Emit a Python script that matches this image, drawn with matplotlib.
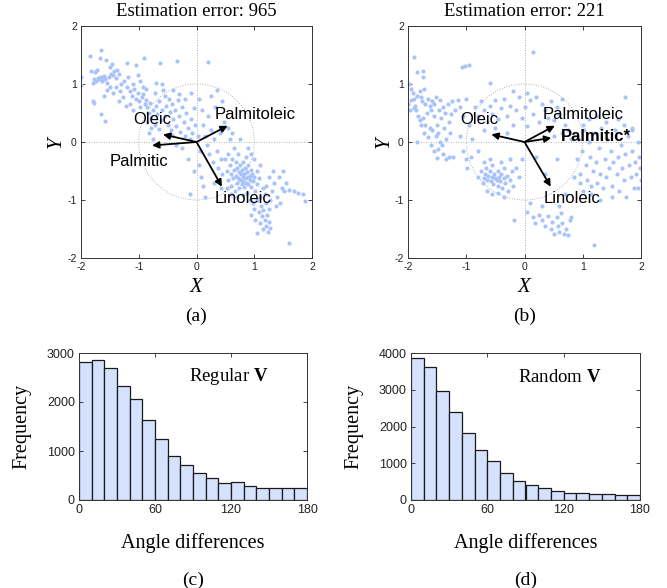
import matplotlib
matplotlib.use("Agg")
import matplotlib.pyplot as plt
from matplotlib.patches import Circle

# ---- data ----
# panel (a): regular V projection
pts_a = [
    (-2.0, 1.12), (-2.0, 0.98), (-1.84, 1.48), (-1.65, 1.58), (-1.67, 1.45), (-1.57, 1.42),
    (-1.82, 1.22), (-1.75, 1.20), (-1.72, 1.25), (-1.70, 1.10), (-1.68, 1.08), (-1.66, 1.12),
    (-1.63, 1.05), (-1.62, 1.10), (-1.60, 1.14), (-1.58, 1.08), (-1.55, 1.02), (-1.78, 1.08),
    (-1.80, 1.02), (-1.74, 1.05), (-1.52, 1.12), (-1.48, 1.18), (-1.45, 1.15), (-1.42, 1.22),
    (-1.40, 1.10), (-1.38, 1.25), (-1.35, 1.18), (-1.50, 1.30), (-1.46, 1.35), (-1.80, 0.70),
    (-1.77, 0.68), (-1.66, 0.49), (-1.58, 0.37), (-1.55, 0.90), (-1.50, 0.95), (-1.45, 0.85),
    (-1.60, 0.80),
    (-1.21, 1.37), (-1.05, 1.33), (-0.91, 1.45), (-1.30, 1.00), (-1.25, 1.05), (-1.20, 0.95),
    (-1.18, 1.12), (-1.15, 0.88), (-1.12, 0.80), (-1.10, 1.00), (-1.08, 0.92), (-1.05, 0.75),
    (-1.02, 0.85), (-1.00, 0.70), (-0.98, 1.05), (-0.95, 0.78), (-0.93, 0.95), (-0.90, 0.65),
    (-1.28, 0.78), (-1.35, 0.70), (-1.22, 0.62), (-1.15, 0.65), (-1.10, 0.55), (-0.98, 0.60),
    (-1.40, 0.95), (-1.32, 0.88), (-0.92, 0.82), (-1.02, 1.15),
    (-0.63, 1.37), (-0.34, 1.40), (-0.88, 0.72), (-0.85, 0.60), (-0.82, 0.50), (-0.80, 0.68),
    (-0.78, 0.42), (-0.75, 0.55), (-0.72, 0.85), (-0.70, 0.62), (-0.68, 0.48), (-0.65, 0.70),
    (-0.62, 0.38), (-0.60, 0.55), (-0.58, 0.90), (-0.55, 0.45), (-0.52, 0.62), (-0.50, 0.30),
    (-0.48, 0.75), (-0.46, 0.52), (-0.85, 0.35), (-0.78, 0.25), (-0.72, 0.30), (-0.65, 0.22),
    (-0.60, 1.00), (-0.55, 0.80), (-0.88, 0.92), (-0.70, 1.02), (-0.82, 0.15), (-0.75, 0.05),
    (-0.42, 0.65), (-0.40, 0.40), (-0.38, 0.55), (-0.35, 0.28), (-0.32, 0.72), (-0.30, 0.45),
    (-0.28, 0.18), (-0.25, 0.60), (-0.22, 0.35), (-0.20, 0.10), (-0.18, 0.50), (-0.15, 0.25),
    (-0.12, 0.05), (-0.10, 0.40), (-0.08, 0.15), (-0.05, 0.58), (-0.03, 0.30), (-0.40, 0.90),
    (-0.30, 0.82), (-0.20, 0.75), (-0.42, 0.12), (-0.35, -0.05), (-0.25, -0.10), (-0.15, -0.30),
    (-0.12, -0.89), (-0.05, -0.50), (-0.45, 0.20), (-0.10, 0.85),
    (0.20, 1.38), (0.05, 0.75), (0.10, 0.55), (0.12, 0.30), (0.15, 0.10), (0.18, -0.05),
    (0.20, 0.45), (0.22, -0.20), (0.25, 0.20), (0.28, -0.35), (0.30, 0.05), (0.32, 0.60),
    (0.35, -0.15), (0.38, -0.45), (0.40, 0.15), (0.42, -0.30), (0.45, -0.55), (0.48, 0.35),
    (0.05, -0.40), (0.08, -0.60), (0.12, -0.75), (0.02, 0.10), (0.06, -0.15), (0.25, 0.80),
    (0.35, 0.90), (0.30, -0.70), (0.42, -0.80), (0.15, -0.95), (0.45, 0.70),
    (0.50, -0.30), (0.52, -0.50), (0.55, -0.65), (0.55, -0.20), (0.58, -0.40), (0.60, -0.55),
    (0.60, -0.75), (0.62, -0.30), (0.63, -0.62), (0.65, -0.48), (0.66, -0.85), (0.68, -0.35),
    (0.68, -0.58), (0.70, -0.70), (0.70, -0.45), (0.72, -0.62), (0.73, -0.52), (0.74, -0.80),
    (0.75, -0.40), (0.76, -0.65), (0.77, -0.55), (0.78, -0.72), (0.79, -0.48), (0.80, -0.60),
    (0.80, -0.35), (0.81, -0.68), (0.82, -0.55), (0.83, -0.78), (0.84, -0.45), (0.85, -0.62),
    (0.86, -0.70), (0.87, -0.52), (0.88, -0.88), (0.89, -0.60), (0.90, -0.40), (0.90, -0.72),
    (0.92, -0.58), (0.93, -0.65), (0.94, -0.48), (0.95, -0.78), (0.96, -0.55), (0.98, -0.68),
    (1.00, -0.60), (1.00, -0.30), (1.02, -0.85), (1.04, -0.50), (1.05, -0.72), (1.08, -0.62),
    (1.10, -0.40), (0.65, -0.10), (0.58, 0.05), (0.72, -0.20), (0.85, -0.25), (0.95, -0.20),
    (0.70, -0.95), (0.80, -0.92), (0.62, 0.15), (0.75, 0.05), (0.55, 0.25), (0.90, -0.10),
    (0.52, -0.80), (0.60, -0.90),
    (0.95, -1.25), (0.98, -1.05), (1.00, -1.15), (1.02, -1.35), (1.05, -1.57), (1.05, -1.00),
    (1.08, -1.20), (1.10, -1.40), (1.12, -1.10), (1.13, -1.28), (1.15, -1.50), (1.16, -1.18),
    (1.18, -1.35), (1.20, -1.05), (1.21, -1.45), (1.22, -1.25), (1.23, -1.55), (1.25, -1.15),
    (1.26, -1.38), (1.28, -1.48), (1.10, -0.95), (1.18, -0.90), (0.92, -1.00), (1.27, -1.00),
    (1.20, -0.75), (1.25, -0.60), (1.30, -0.85), (1.32, -0.50), (1.35, -0.70), (1.40, -0.95),
    (1.42, -0.60), (1.48, -0.80), (1.50, -0.50), (1.52, -0.85), (1.55, -0.70), (1.60, -0.82),
    (1.68, -0.85), (1.75, -0.88), (1.88, -1.02), (1.85, -0.90), (1.60, -1.75), (1.45, -1.05),
    (1.38, -1.10), (1.15, -0.80),
]

# panel (b): random V projection
pts_b = [
    (-1.90, 1.47), (-1.84, 1.21), (-1.74, 1.22), (-1.75, 1.12), (-1.98, 1.00), (-1.95, 0.92),
    (-1.92, 0.85), (-1.90, 0.75), (-1.88, 0.62), (-1.86, 0.55), (-2.00, 0.65), (-1.97, 0.55),
    (-1.85, 0.80), (-1.80, 0.88), (-1.78, 0.78), (-1.76, 0.70), (-1.82, 0.45), (-1.80, 0.38),
    (-1.78, 0.30), (-1.75, 0.42), (-1.72, 0.92), (-1.68, 0.50), (-1.65, 0.75), (-1.62, 0.62),
    (-1.60, 0.55), (-1.58, 0.70), (-1.56, 0.45), (-1.55, 0.65), (-1.52, 0.78), (-1.50, 0.30),
    (-1.48, 0.15), (-1.47, 0.55), (-1.45, 0.72), (-1.43, 0.42), (-1.40, 0.60), (-1.38, 0.25),
    (-1.36, 0.50), (-1.35, 0.05), (-1.32, 0.65), (-1.30, 0.35), (-1.28, 0.15), (-1.26, 0.48),
    (-1.25, 0.70), (-1.22, -0.25), (-1.20, 0.55), (-1.72, 0.15), (-1.65, 0.08), (-1.60, -0.05),
    (-1.55, -0.15), (-1.50, -0.28), (-1.48, -0.12), (-1.42, -0.05), (-1.85, 0.00), (-1.70, 0.30),
    (-1.62, 0.25), (-1.58, 0.20), (-1.52, 0.10), (-1.45, 0.00), (-1.40, -0.20), (-1.35, -0.30),
    (-1.30, -0.25), (-1.95, 0.72), (-1.90, 0.58), (-1.70, 0.65),
    (-1.07, 1.29), (-1.02, 1.31), (-0.95, 1.32), (-1.15, 0.72), (-1.10, 0.60), (-1.05, 0.45),
    (-1.00, 0.75), (-0.95, 0.30), (-1.10, 0.10), (-1.05, -0.15), (-1.00, -0.30), (-0.98, -0.45),
    (-0.92, -0.25), (-0.90, 0.05), (-0.60, 1.02),
    (-0.85, 0.60), (-0.80, 0.45), (-0.75, 0.70), (-0.70, 0.55), (-0.65, 0.35), (-0.60, 0.62),
    (-0.55, 0.48), (-0.50, 0.72), (-0.45, 0.40), (-0.40, 0.58), (-0.35, 0.75), (-0.30, 0.45),
    (-0.25, 0.62), (-0.20, 0.30), (-0.15, 0.55), (-0.10, 0.78), (-0.05, 0.42), (0.00, 0.60),
    (0.05, 0.28), (0.10, 0.72), (0.15, 0.48), (0.20, 0.78), (0.25, 0.35), (0.30, 0.65),
    (0.35, 0.55), (0.40, 0.42), (0.45, 0.70), (0.50, 0.38), (0.55, 0.60), (0.60, 0.48),
    (0.65, 0.75), (0.70, 0.30), (-0.70, 0.20), (-0.30, 0.15), (0.15, 1.55), (-0.50, 0.25),
    (0.05, 0.85), (-0.20, 0.88),
    (-0.80, -0.60), (-0.75, -0.50), (-0.72, -0.70), (-0.70, -0.62), (-0.68, -0.55), (-0.66, -0.45),
    (-0.64, -0.65), (-0.62, -0.58), (-0.60, -0.50), (-0.58, -0.68), (-0.56, -0.60), (-0.55, -0.40),
    (-0.54, -0.72), (-0.52, -0.55), (-0.50, -0.62), (-0.48, -0.66), (-0.46, -0.50), (-0.45, -0.75),
    (-0.43, -0.60), (-0.42, -0.68), (-0.40, -0.55), (-0.38, -0.80), (-0.36, -0.62), (-0.35, -0.45),
    (-0.33, -0.70), (-0.30, -0.58), (-0.28, -0.85), (-0.25, -0.65), (-0.22, -0.50), (-0.20, -0.75),
    (-0.65, -0.85), (-0.55, -0.90), (-0.45, -0.88), (-0.35, -0.95), (-0.70, -0.35), (-0.15, -0.45),
    (-0.10, -0.60), (-0.05, -0.30), (-0.60, -0.30), (-0.40, -0.35), (-0.25, -0.30),
    (0.90, -0.30), (0.92, 0.05), (0.95, -0.55), (0.98, -0.15), (1.00, -0.85), (1.02, 0.20),
    (1.05, -0.40), (1.08, -0.65), (1.10, 0.00), (1.12, -0.25), (1.15, -0.90), (1.18, -0.50),
    (1.20, 0.15), (1.22, -0.35), (1.25, -0.70), (1.28, -0.10), (1.30, -0.55), (1.32, 0.25),
    (1.35, -0.80), (1.38, -0.30), (1.40, -0.60), (1.42, 0.05), (1.45, -0.45), (1.48, -0.15),
    (1.50, -0.75), (1.52, -0.35), (1.55, 0.20), (1.58, -0.55), (1.60, -0.25), (1.62, -0.85),
    (1.65, -0.05), (1.68, -0.45), (1.70, -0.65), (1.73, 0.77), (1.72, -0.20), (1.75, -0.95),
    (1.78, 0.10), (1.80, -0.40), (1.82, -0.60), (1.84, 0.25), (1.85, -0.15), (1.88, -0.80),
    (1.90, -0.35), (1.92, -0.55), (1.95, 0.00), (1.96, -0.25), (1.98, -0.45), (2.00, -0.65),
    (1.60, 0.40), (1.40, 0.35), (1.25, 0.45), (1.10, 0.40), (1.85, 0.20), (1.50, -0.95),
    (1.30, -1.00), (1.15, -0.75), (1.95, -0.80), (1.70, 0.30), (1.00, 0.30), (0.95, -0.70),
    (0.15, -1.30), (0.18, -1.40), (0.25, -1.25), (0.30, -1.35), (0.35, -1.45), (0.40, -1.28),
    (0.45, -1.50), (0.48, -1.38), (0.50, -1.58), (0.55, -1.30), (0.58, -1.45), (0.60, -1.55),
    (0.62, -1.22), (0.65, -1.40), (0.68, -1.58), (0.72, -1.50), (0.75, -1.60), (0.78, -1.35),
    (0.80, -1.30), (0.05, -1.20), (-0.18, -1.35), (1.20, -1.78), (0.10, -1.05), (0.30, -1.10),
    (0.60, -1.10),
    (0.20, -0.25), (0.35, -0.55), (0.55, -0.30), (0.70, -0.90), (0.80, 0.05), (0.85, -0.60),
    (-0.80, -0.15), (0.50, 0.10), (0.65, 0.15), (0.75, 0.20),
]

# arrow tips: (name, x, y, label x, label y, bold)
arrows_a = [
    ("Oleic", -0.58, 0.13, -0.77, 0.38, False),
    ("Palmitic", -0.77, -0.06, -0.99, -0.34, False),
    ("Palmitoleic", 0.54, 0.28, 1.01, 0.48, False),
    ("Linoleic", 0.44, -0.77, 0.81, -0.98, False),
]
arrows_b = [
    ("Oleic", -0.57, 0.13, -0.77, 0.38, False),
    ("Palmitoleic", 0.52, 0.28, 1.01, 0.48, False),
    ("Palmitic*", 0.46, 0.07, 1.23, 0.09, True),
    ("Linoleic", 0.45, -0.77, 0.81, -0.98, False),
]

# histograms, 10-degree bins from 0 to 180
bin_edges = list(range(0, 190, 10))
freq_regular = [2810, 2850, 2690, 2330, 2070, 1630, 1240, 890, 715, 560,
                440, 345, 360, 285, 240, 250, 240, 250]
freq_random = [3870, 3620, 2960, 2400, 1810, 1350, 1050, 740, 515, 415,
               315, 250, 200, 200, 172, 172, 145, 127]

SERIF = "Liberation Serif"
SANS = "Liberation Sans"
DOT = "#a8c3fa"
BAR = "#d5e2fd"

plt.rcParams["axes.unicode_minus"] = False
plt.rcParams["mathtext.fontset"] = "custom"
plt.rcParams["mathtext.rm"] = SERIF
plt.rcParams["mathtext.bf"] = SERIF + ":bold"

W, H = 667, 588
fig = plt.figure(figsize=(W / 100, H / 100), dpi=100)


def box(l, t, r, b):
    return [l / W, 1 - b / H, (r - l) / W, (b - t) / H]


def style_axes(ax, size):
    ax.tick_params(direction="in", top=True, right=True, length=3, width=0.6,
                   labelsize=size, colors="#222222", pad=3)
    for lab in ax.get_xticklabels() + ax.get_yticklabels():
        lab.set_fontfamily(SANS)
    for s in ax.spines.values():
        s.set_linewidth(0.7)
        s.set_color("#333333")


def scatter_panel(rect, pts, arrows, title, cap, ylab_x):
    ax = fig.add_axes(box(*rect))
    ax.axhline(0, color="#999999", lw=0.6, ls=(0, (1, 2)), zorder=1)
    ax.axvline(0, color="#999999", lw=0.6, ls=(0, (1, 2)), zorder=1)
    ax.add_patch(Circle((0, 0), 1, fill=False, ec="#999999", lw=0.6, ls=(0, (1, 2)), zorder=1))
    ax.scatter([p[0] for p in pts], [p[1] for p in pts], s=9, c=DOT, lw=0, zorder=2)
    for name, x, y, lx, ly, bold in arrows:
        ax.annotate("", xy=(x, y), xytext=(0, 0),
                    arrowprops=dict(arrowstyle="-|>", color="black", lw=1.3,
                                    mutation_scale=10, shrinkA=0, shrinkB=0), zorder=3)
        ax.text(lx, ly, name, ha="center", va="center", fontsize=12, family=SANS,
                fontweight="bold" if bold else "normal", zorder=4)
    ax.set_xlim(-2, 2)
    ax.set_ylim(-2, 2)
    ax.set_xticks([-2, -1, 0, 1, 2])
    ax.set_yticks([-2, -1, 0, 1, 2])
    style_axes(ax, 7.5)
    cx = (rect[0] + rect[2]) / 2
    fig.text(cx / W, 1 - 12 / H, title, ha="center", va="center", fontsize=13.5, family=SERIF)
    fig.text(cx / W, 1 - 288 / H, "X", ha="center", va="center", fontsize=15,
             family=SERIF, style="italic")
    fig.text(ylab_x / W, 1 - 142 / H, "Y", ha="center", va="center", fontsize=15,
             family=SERIF, style="italic", rotation=90)
    fig.text(cx / W, 1 - 316 / H, cap, ha="center", va="center", fontsize=14, family=SERIF)
    return ax


def hist_panel(rect, counts, ymax, yticks, label, cap, ylab_x, lx, ly):
    ax = fig.add_axes(box(*rect))
    ax.bar(bin_edges[:-1], counts, width=10, align="edge", color=BAR,
           edgecolor="#1a1a1a", lw=0.9)
    ax.set_xlim(0, 180)
    ax.set_ylim(0, ymax)
    ax.set_xticks([0, 60, 120, 180])
    ax.set_yticks(yticks)
    style_axes(ax, 9)
    ax.text(lx, ly, label, ha="center", va="center", fontsize=13.5, family=SERIF)
    cx = (rect[0] + rect[2]) / 2
    fig.text(cx / W, 1 - 543 / H, "Angle differences", ha="center", va="center",
             fontsize=14.5, family=SERIF)
    fig.text(ylab_x / W, 1 - 426 / H, "Frequency", ha="center", va="center",
             fontsize=14.5, family=SERIF, rotation=90)
    fig.text(cx / W, 1 - 580 / H, cap, ha="center", va="center", fontsize=14, family=SERIF)
    return ax


scatter_panel((81, 26, 312, 258), pts_a, arrows_a, "Estimation error: 965", "(a)", 56)
scatter_panel((408, 26, 641, 258), pts_b, arrows_b, "Estimation error: 221", "(b)", 384)

hist_panel((79, 353, 307, 500), freq_regular, 3000, [0, 1000, 2000, 3000],
           r"Regular $\mathbf{V}$", "(c)", 22, 118, 2520)
hist_panel((411, 353, 640, 500), freq_random, 4000, [0, 1000, 2000, 3000, 4000],
           r"Random $\mathbf{V}$", "(d)", 354, 117, 3330)

fig.savefig("out.png", dpi=100)
